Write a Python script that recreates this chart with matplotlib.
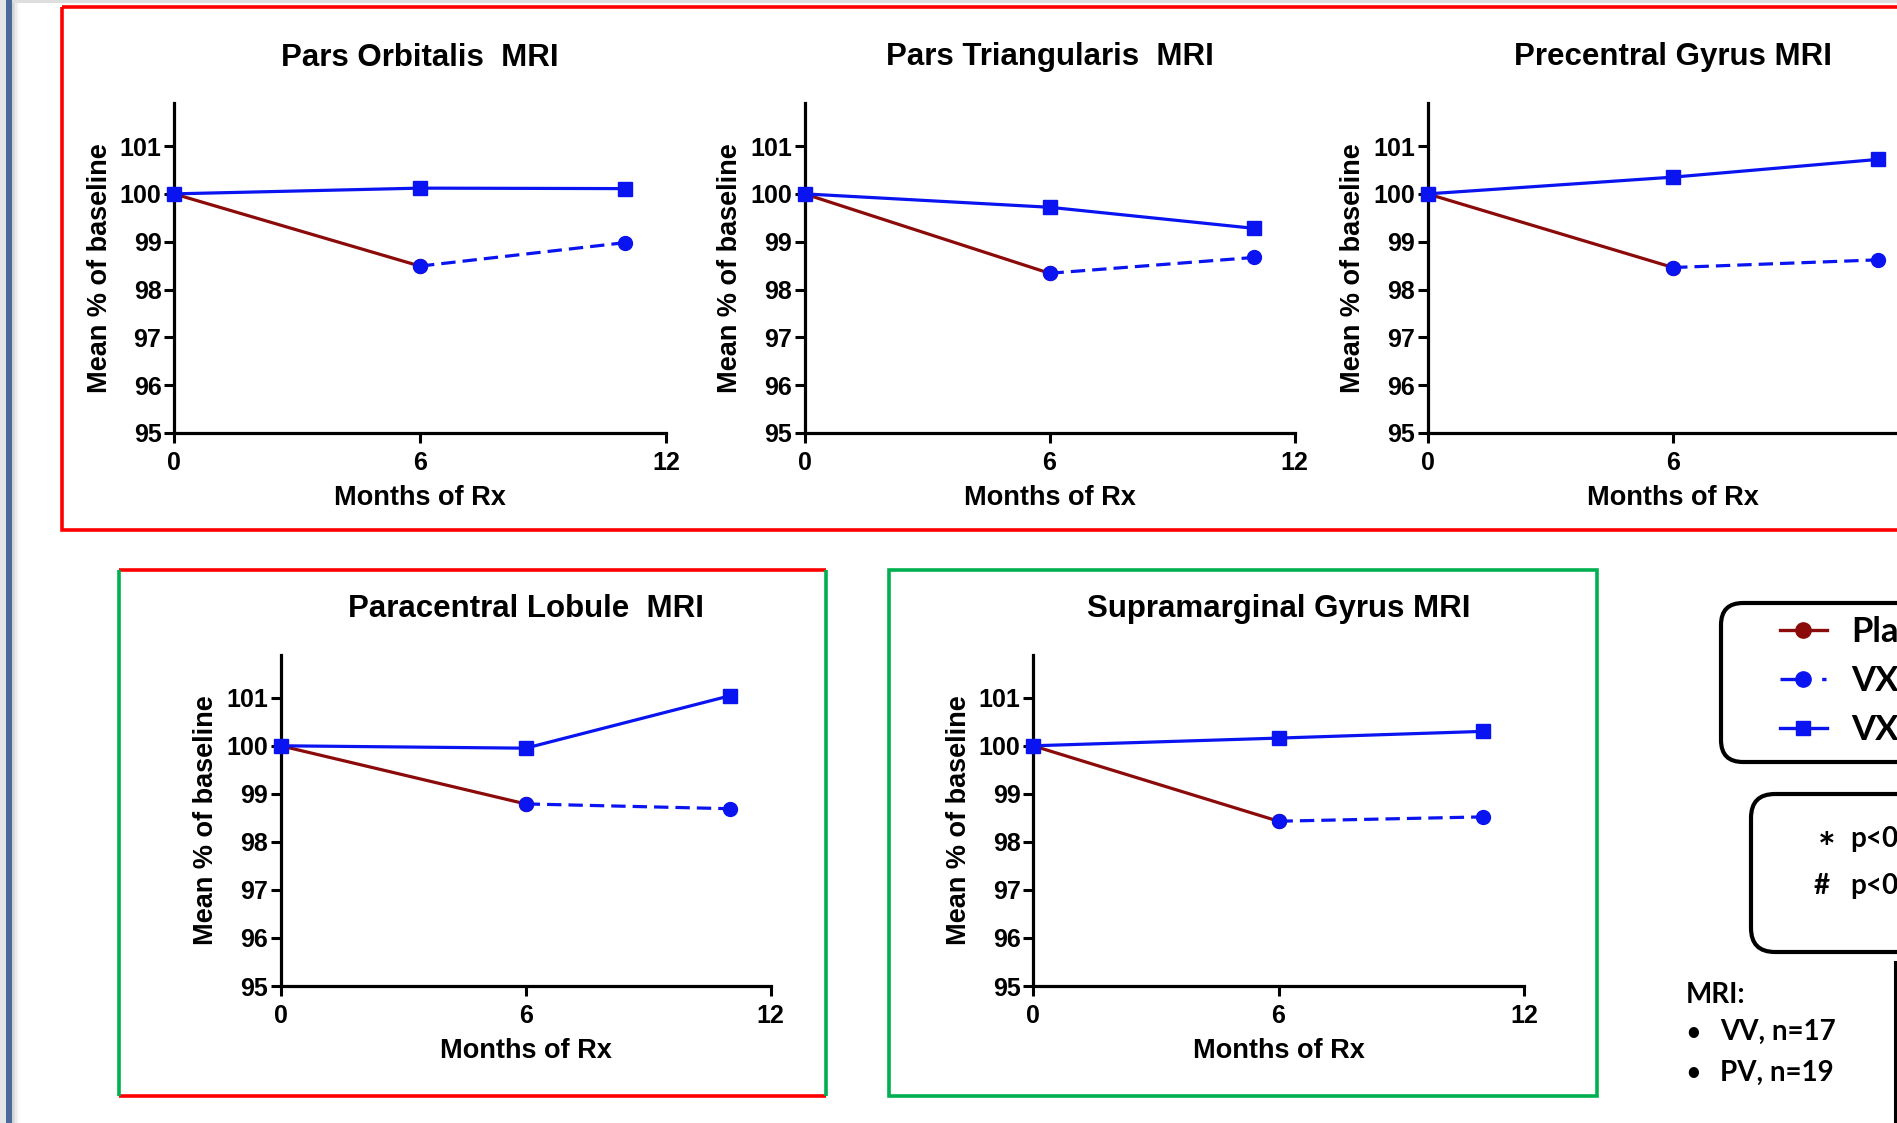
import matplotlib
matplotlib.use("Agg")
import matplotlib.pyplot as plt
from matplotlib.patches import Rectangle, FancyBboxPatch
from matplotlib.lines import Line2D

# ---- data ----
months = [0, 6, 11]
titles = ["Pars Orbitalis  MRI", "Pars Triangularis  MRI", "Precentral Gyrus MRI",
          "Paracentral Lobule  MRI", "Supramarginal Gyrus MRI"]
# VX -> VX group (VV), solid blue squares
vv_means = [[100, 100.12, 100.11],
            [100, 99.72, 99.28],
            [100, 100.35, 100.72],
            [100, 99.95, 101.04],
            [100, 100.16, 100.30]]
# placebo -> VX group (PV): placebo 0-6 months, then VX 6-11 months
pv_means = [[100, 98.49, 98.98],
            [100, 98.34, 98.67],
            [100, 98.46, 98.62],
            [100, 98.79, 98.69],
            [100, 98.43, 98.52]]
yticks = [95, 96, 97, 98, 99, 100, 101]
xticks = [0, 6, 12]
legend_labels = ["Placebo", "VX15 (PV)", "VX15 (VV)"]

W, H = 1897, 1123
RED_LINE = "#8B0A0A"
BLUE = "#0A14F0"
CHART_FONT = "Liberation Sans"
SLIDE_FONT = "Lato"

fig = plt.figure(figsize=(W / 100, H / 100), dpi=100)
fig.patch.set_facecolor("white")


def px_rect(left, top, right, bottom):
    return [left / W, 1 - bottom / H, (right - left) / W, (bottom - top) / H]


# background layer in pixel coordinates for the slide decorations
bg = fig.add_axes([0, 0, 1, 1], zorder=0)
bg.set_xlim(0, W)
bg.set_ylim(H, 0)
bg.axis("off")

# slide edge
bg.add_patch(Rectangle((0, 0), 6, H, color="#E6E6E6", lw=0))
bg.add_patch(Rectangle((6, 0), 6, H, color="#4A6A9B", lw=0))
for i, a in enumerate([0.35, 0.25, 0.16, 0.09, 0.04]):
    bg.add_patch(Rectangle((12 + i * 1.6, 0), 1.6, H, color="black", alpha=a * 0.5, lw=0))
bg.add_patch(Rectangle((12, 0), W, 3, color="#DEDEDE", lw=0))

# frames around the panels
bg.add_patch(Rectangle((61.5, 6.5), 2000, 523.5, fill=False, ec="#FF0000", lw=2.6))
bg.plot([119, 826], [570, 570], color="#FF0000", lw=2.6, solid_capstyle="butt")
bg.plot([119, 826], [1096, 1096], color="#FF0000", lw=2.6, solid_capstyle="butt")
bg.plot([119, 119], [570, 1096], color="#00B050", lw=2.6, solid_capstyle="butt")
bg.plot([826, 826], [570, 1096], color="#00B050", lw=2.6, solid_capstyle="butt")
bg.add_patch(Rectangle((889, 570), 708, 526, fill=False, ec="#00B050", lw=2.6))

# rounded boxes on the right (clipped by the slide edge)
bg.add_patch(FancyBboxPatch((1721, 603), 400, 159, boxstyle="round,pad=0,rounding_size=22",
                            fill=False, ec="black", lw=3))
bg.add_patch(FancyBboxPatch((1751, 794), 400, 158, boxstyle="round,pad=0,rounding_size=24",
                            fill=False, ec="black", lw=3))
bg.plot([1895, 1895], [962, H + 10], color="black", lw=2.2)

sig = dict(family=SLIDE_FONT, weight="bold", fontsize=20, color="black", va="center")
bg.text(1818, 851, "*", family=SLIDE_FONT, weight="bold", fontsize=30, va="center")
bg.text(1850, 839, "p<0.05", **sig)
bg.text(1814, 886, "#", **sig)
bg.text(1850, 886, "p<0.10", **sig)

note = dict(family=SLIDE_FONT, weight="bold", fontsize=20, color="black", va="center")
bg.text(1686, 995, "MRI:", **note)
bg.text(1686, 1032, "\u2022", family=SLIDE_FONT, weight="bold", fontsize=17, va="center")
bg.text(1720, 1032, "VV, n=17", **note)
bg.text(1686, 1073, "\u2022", family=SLIDE_FONT, weight="bold", fontsize=17, va="center")
bg.text(1720, 1073, "PV, n=19", **note)

# ---- the five panels ----
positions = [px_rect(174, 103, 666, 433),
             px_rect(804.5, 103, 1294.5, 433),
             px_rect(1427.6, 103, 1918.6, 433),
             px_rect(280.7, 654.5, 770.6, 986),
             px_rect(1033, 654.5, 1524, 986)]

for k in range(5):
    ax = fig.add_axes(positions[k], zorder=2)
    ax.set_facecolor("none")
    vv = vv_means[k]
    pv = pv_means[k]
    # placebo phase
    ax.plot(months[:2], pv[:2], color=RED_LINE, lw=2.3, marker="o", ms=10,
            clip_on=False, zorder=3)
    # placebo -> VX phase
    ax.plot(months[1:], pv[1:], color=BLUE, lw=2.3, ls=(0, (4.5, 2.2)), marker="o", ms=10,
            clip_on=False, zorder=4)
    # VX -> VX
    ax.plot(months, vv, color=BLUE, lw=2.3, marker="s", ms=10, clip_on=False, zorder=5)

    ax.set_xlim(0, 12)
    ax.set_ylim(95, 101.9)
    ax.set_xticks(xticks)
    ax.set_yticks(yticks)
    for side in ["top", "right"]:
        ax.spines[side].set_visible(False)
    for side in ["left", "bottom"]:
        ax.spines[side].set_linewidth(2.3)
        ax.spines[side].set_color("black")
    ax.tick_params(axis="both", length=7, width=2.2, colors="black")
    ax.tick_params(axis="y", pad=2)
    ax.tick_params(axis="x", pad=6)
    for lab in ax.get_xticklabels() + ax.get_yticklabels():
        lab.set_family(CHART_FONT)
        lab.set_fontweight("bold")
        lab.set_fontsize(18)
    ax.set_title(titles[k], pad=27, fontsize=22.5, fontweight="bold", family=CHART_FONT)
    ax.set_xlabel("Months of Rx", fontsize=19.5, fontweight="bold", family=CHART_FONT,
                  labelpad=7)
    ax.set_ylabel("Mean % of baseline", fontsize=19.5, fontweight="bold", family=CHART_FONT,
                  labelpad=5)

# legend for the three groups
handles = [Line2D([], [], color=RED_LINE, lw=2.4, marker="o", ms=11),
           Line2D([], [], color=BLUE, lw=2.4, ls=(0, (9, 3.5, 1.3, 10)), marker="o", ms=11),
           Line2D([], [], color=BLUE, lw=2.4, marker="s", ms=10.5)]
fig.legend(handles, legend_labels, loc="upper left",
           bbox_to_anchor=(1780 / W, 1 - 616 / H), frameon=False, borderpad=0,
           borderaxespad=0, handlelength=1.35, handletextpad=0.7, labelspacing=0.47,
           prop=dict(family=SLIDE_FONT, weight="bold", size=25))

fig.savefig("out.png", dpi=100)
